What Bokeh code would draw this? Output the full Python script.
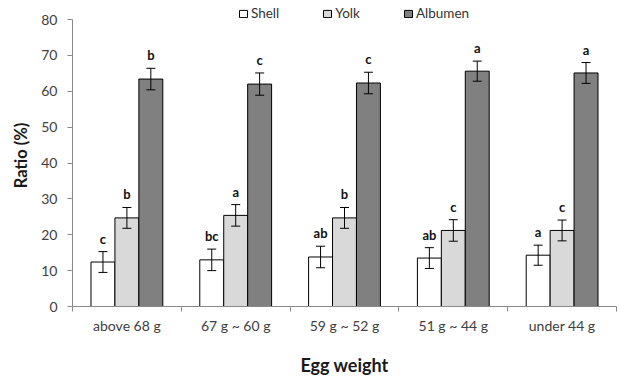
import numpy as np
from bokeh.plotting import figure
from bokeh.models import (ColumnDataSource, Range1d, FixedTicker, Whisker, TeeHead)
from bokeh.core.properties import value
from bokeh.embed import file_html
from bokeh.resources import INLINE

categories = ["above 68 g", "67 g ~ 60 g", "59 g ~ 52 g", "51 g ~ 44 g", "under 44 g"]
series = ["Shell", "Yolk", "Albumen"]
shell = [12.4, 13.0, 13.8, 13.5, 14.3]
yolk = [24.7, 25.4, 24.7, 21.2, 21.2]
albumen = [63.4, 62.0, 62.3, 65.6, 65.1]
shell_err = [2.9, 3.0, 3.0, 2.9, 2.8]
yolk_err = [2.9, 3.0, 2.9, 3.0, 2.9]
albumen_err = [3.0, 3.1, 3.0, 2.8, 2.9]
shell_letters = ["c", "bc", "ab", "ab", "a"]
yolk_letters = ["b", "a", "b", "c", "c"]
albumen_letters = ["b", "c", "c", "a", "a"]
y_ticks = [0, 10, 20, 30, 40, 50, 60, 70, 80]

FONT = "Lato"
colors = ["#ffffff", "#d9d9d9", "#808080"]
offsets = [-0.22, 0.0, 0.22]
width = 0.22

p = figure(width=620, height=378, output_backend="svg", toolbar_location=None,
           x_range=Range1d(0, len(categories)), y_range=Range1d(0, 85.3),
           min_border_left=72, min_border_right=4, min_border_top=0, min_border_bottom=71)
p.outline_line_color = None
p.xgrid.visible = False
p.ygrid.visible = False
p.background_fill_color = None
p.border_fill_color = "white"

centers = np.arange(len(categories)) + 0.5
vals = [shell, yolk, albumen]
errs = [shell_err, yolk_err, albumen_err]
lets = [shell_letters, yolk_letters, albumen_letters]

for name, v, e, l, c, off in zip(series, vals, errs, lets, colors, offsets):
    v = np.array(v)
    e = np.array(e)
    src = ColumnDataSource(dict(x=centers + off, top=v, upper=v + e, lower=v - e, letter=l))
    p.vbar(x="x", top="top", width=width, bottom=0, source=src, fill_color=c,
           line_color="black", line_width=1, legend_label=name)
    w = Whisker(base="x", upper="upper", lower="lower", source=src, line_color="black",
                line_width=1, level="annotation",
                upper_head=TeeHead(size=9, line_color="black", line_width=1),
                lower_head=TeeHead(size=9, line_color="black", line_width=1))
    p.add_layout(w)
    p.text(x="x", y="upper", text="letter", source=src, text_align="center",
           text_baseline="bottom", y_offset=-5, text_font=value(FONT),
           text_font_style="bold", text_font_size="13px", text_color="#111111")

# X axis
xa = p.xaxis[0]
xa.ticker = FixedTicker(ticks=list(centers), minor_ticks=list(range(len(categories) + 1)))
xa.major_label_overrides = {float(c): lab for c, lab in zip(centers, categories)}
xa.major_tick_out = 0
xa.major_tick_in = 0
xa.minor_tick_out = 5
xa.minor_tick_in = 0
xa.minor_tick_line_color = "#898989"
xa.axis_line_color = "#898989"
xa.major_label_text_font = FONT
xa.major_label_text_font_size = "14px"
xa.major_label_text_color = "#404040"
xa.major_label_standoff = 5
xa.axis_label = "Egg weight"
xa.axis_label_text_font = FONT
xa.axis_label_text_font_style = "bold"
xa.axis_label_text_font_size = "18px"
xa.axis_label_text_color = "#1a1a1a"
xa.axis_label_standoff = 17

# Y axis
ya = p.yaxis[0]
ya.ticker = FixedTicker(ticks=y_ticks, minor_ticks=[])
ya.bounds = (0, 80)
ya.major_tick_out = 5
ya.major_tick_in = 0
ya.major_tick_line_color = "#898989"
ya.axis_line_color = "#898989"
ya.major_label_text_font = FONT
ya.major_label_text_font_size = "14px"
ya.major_label_text_color = "#404040"
ya.major_label_standoff = 10
ya.axis_label = "Ratio  (%)"
ya.axis_label_text_font = FONT
ya.axis_label_text_font_style = "bold"
ya.axis_label_text_font_size = "16.5px"
ya.axis_label_text_color = "#1a1a1a"
ya.axis_label_standoff = 7

lg = p.legend[0]
lg.orientation = "horizontal"
lg.location = (166, 285)
lg.border_line_color = None
lg.background_fill_alpha = 0
lg.padding = 0
lg.margin = 0
lg.spacing = 43
lg.glyph_width = 10
lg.glyph_height = 9
lg.label_height = 14
lg.label_standoff = 3
lg.label_text_font = FONT
lg.label_text_font_size = "13.5px"
lg.label_text_color = "#333333"

open("out.html", "w").write(file_html(p, INLINE))
